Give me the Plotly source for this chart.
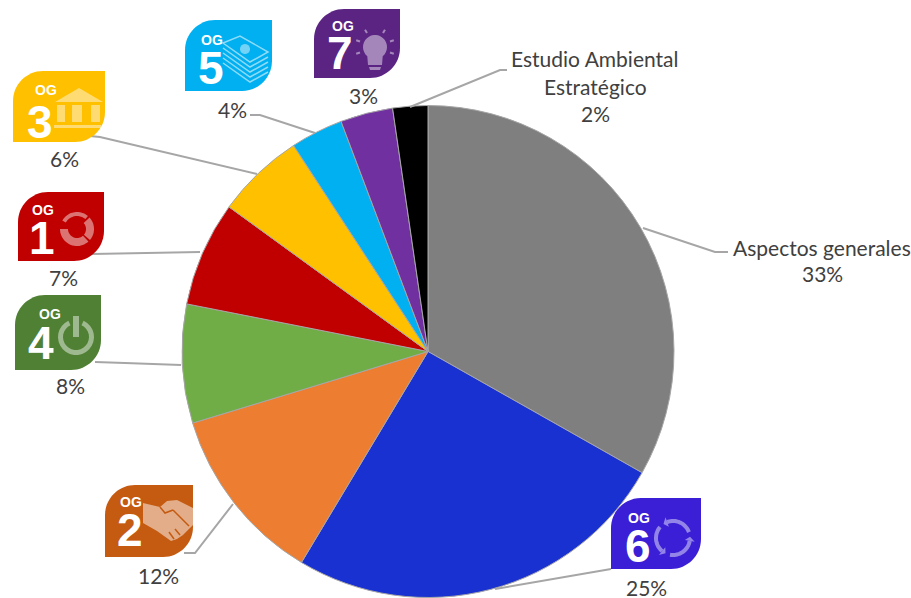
import re

import numpy as np
import plotly.graph_objects as go

WIDTH = 911
HEIGHT = 598

categories = ['Aspectos generales', 'OG 6', 'OG 2', 'OG 4', 'OG 1', 'OG 3', 'OG 5', 'OG 7',
              'Estudio Ambiental Estratégico']
values = [33.2, 25.4, 11.7, 7.8, 6.9, 5.8, 3.45, 3.45, 2.3]
slice_colors = ['#7F7F7F', '#1A31D1', '#ED7D31', '#70AD47', '#C00000', '#FFC000', '#00B0F0', '#7030A0', '#000000']

# texto, x, y (pixeles de la imagen)
labels = [
    ('Aspectos generales', 822, 247), ('33%', 822, 274),
    ('Estudio Ambiental', 595, 58), ('Estratégico', 595, 86), ('2%', 595, 114),
    ('25%', 646, 587), ('12%', 158, 575), ('8%', 70, 385), ('7%', 63, 277),
    ('6%', 64, 158), ('4%', 232, 109), ('3%', 363, 95),
]

leaders = [
    [(643, 228), (715, 252), (728, 252)],
    [(495, 589), (611, 569)],
    [(233, 504), (195, 553), (184, 553)],
    [(95, 362), (125, 363), (181, 365)],
    [(92, 254), (200, 252)],
    [(90, 136), (100, 137), (257, 174)],
    [(250, 115), (260, 115), (315, 133)],
    [(410, 107), (500, 70), (507, 70)],
]

# numero, color, x0, y0, x1, y1, pos. OG, pos. numero
badges = [
    ('3', '#FFC000', 13, 71, 105, 142, (33, 19), (27, 51)),
    ('5', '#00B0F0', 185, 20, 272, 91, (27, 20), (26, 48)),
    ('7', '#5B2483', 314, 9, 400, 78, (29, 17), (26, 44)),
    ('1', '#C00000', 18, 192, 104, 261, (25, 18), (24, 46)),
    ('4', '#4F8033', 15, 295, 101, 370, (35, 19), (26, 48)),
    ('2', '#C55A11', 105, 485, 193, 557, (26, 17), (25, 45)),
    ('6', '#3A1FD6', 611, 498, 701, 569, (28, 20), (27, 48)),
]

shapes = []
annotations = []


def to_paper(x, y):
    return x / WIDTH, 1 - y / HEIGHT


def path_at(path, x0, y0):
    # pasa un path en pixeles locales a coordenadas paper
    nums = iter(re.findall(r'[A-Z]|-?\d+\.?\d*', path))
    out = []
    for tok in nums:
        if tok.isalpha():
            out.append(tok)
        else:
            px, py = to_paper(float(tok) + x0, float(next(nums)) + y0)
            out.append(f'{px:.5f},{py:.5f}')
    return ' '.join(out)


def add_path(path, x0=0, y0=0, fill=None, line=None, width=0, opacity=1.0):
    shapes.append(dict(
        type='path', xref='paper', yref='paper', path=path_at(path, x0, y0),
        fillcolor=fill or 'rgba(0,0,0,0)',
        line=dict(color=line or 'rgba(0,0,0,0)', width=width),
        opacity=opacity, layer='above',
    ))


def poly(points, close=True):
    s = 'M ' + ' L '.join(f'{x:.1f} {y:.1f}' for x, y in points)
    return s + (' Z' if close else '')


def arc(cx, cy, r, a0, a1, n=24):
    t = np.radians(np.linspace(a0, a1, n))
    return list(zip(cx + r * np.sin(t), cy - r * np.cos(t)))


def ring_sector(cx, cy, r0, r1, a0, a1):
    return poly(arc(cx, cy, r1, a0, a1) + arc(cx, cy, r0, a1, a0))


def leaf(w, h, r=30):
    k = r * 0.45
    return (f'M {r} 0 L {w} 0 L {w} {h - r} C {w} {h - k} {w - k} {h} {w - r} {h} '
            f'L 0 {h} L 0 {r} C 0 {k} {k} 0 {r} 0 Z')


def icon_3(x, y):
    add_path('M 66 17 L 90 31 L 42 31 Z', x, y, 'white', opacity=0.45)
    for a, b in [(44, 52), (59, 69), (78, 87)]:
        add_path(poly([(a, 34), (b, 34), (b, 51), (a, 51)]), x, y, 'white', opacity=0.45)
    add_path(poly([(41, 54), (88, 54), (88, 57), (41, 57)]), x, y, 'white', opacity=0.45)


def icon_5(x, y):
    add_path('M 38 23 L 55 16 L 83 32 L 65 42 Z', x, y, None, 'white', 1.5, 0.55)
    for k in [5, 10, 15, 20]:
        add_path(poly([(38, 23 + k), (65, 42 + k), (83, 32 + k)], close=False), x, y, None, 'white', 1.5, 0.55)
    add_path(poly(arc(60, 29, 5, 0, 360)), x, y, 'white', opacity=0.45)


def icon_7(x, y):
    add_path(poly(arc(61, 38, 12, -140, 140) + [(68, 56), (54, 56)]), x, y, 'white', opacity=0.45)
    add_path(poly([(55, 58), (67, 58), (66, 61), (56, 61)]), x, y, 'white', opacity=0.45)
    for a in [-110, -70, -30, 30, 70, 110]:
        p = arc(61, 38, 16, a, a, 1) + arc(61, 38, 20, a, a, 1)
        add_path(poly(p, close=False), x, y, None, 'white', 2, 0.45)


def icon_1(x, y):
    for a0, a1, r0 in [(-60, 40, 13), (48, 130, 9), (138, 270, 9)]:
        add_path(ring_sector(59, 37, r0, 17, a0, a1), x, y, 'white', opacity=0.45)


def icon_4(x, y):
    add_path(ring_sector(61, 42, 13, 18, 25, 335), x, y, 'white', opacity=0.45)
    add_path(poly([(58, 21), (64, 21), (64, 42), (58, 42)]), x, y, 'white', opacity=0.45)


def icon_2(x, y):
    pts = [(38, 18), (55, 22), (62, 16), (72, 15), (88, 23), (88, 40), (78, 50), (72, 54), (66, 56), (52, 46), (38, 38)]
    add_path(poly(pts), x, y, 'white', opacity=0.5)
    # dedos y pulgar
    for seg in [[(55, 22), (60, 28), (68, 25)], [(68, 25), (84, 41)], [(64, 47), (69, 54)], [(70, 44), (75, 50)]]:
        add_path(poly(seg, close=False), x, y, None, '#C55A11', 1.5)


def icon_6(x, y):
    for a0, a1 in [(-20, 70), (100, 190), (220, 310)]:
        add_path(poly(arc(62, 40, 17, a0, a1), close=False), x, y, None, 'white', 4, 0.45)
        tip = arc(62, 40, 17, a0 - 14, a0 - 14, 1)
        base = arc(62, 40, 12, a0, a0, 1) + arc(62, 40, 22, a0, a0, 1)
        add_path(poly(tip + base), x, y, 'white', opacity=0.45)


icons = {'1': icon_1, '2': icon_2, '3': icon_3, '4': icon_4, '5': icon_5, '6': icon_6, '7': icon_7}

for pts in leaders:
    add_path(poly(pts, close=False), line='#A6A6A6', width=2)

for num, color, x0, y0, x1, y1, og_pos, num_pos in badges:
    add_path(leaf(x1 - x0, y1 - y0), x0, y0, color)
    icons[num](x0, y0)
    for text, pos, size, box in [('OG', og_pos, 14, 14), (num, num_pos, 46, 34)]:
        px, py = to_paper(x0 + pos[0], y0 + pos[1])
        annotations.append(dict(
            text=f'<b>{text}</b>', x=px, y=py, xref='paper', yref='paper', showarrow=False,
            xanchor='center', yanchor='middle', height=box, valign='middle',
            font=dict(family='Liberation Sans', size=size, color='white'),
        ))

for text, x, y in labels:
    px, py = to_paper(x, y)
    annotations.append(dict(
        text=text, x=px, y=py, xref='paper', yref='paper', showarrow=False,
        xanchor='center', yanchor='middle',
        font=dict(family='Lato', size=21, color='#404040'),
    ))

fig = go.Figure(
    data=go.Pie(
        labels=categories,
        values=values,
        sort=False,
        direction='clockwise',
        rotation=0,
        textinfo='none',
        hoverinfo='label+percent',
        marker=dict(colors=slice_colors, line=dict(color='#A6A6A6', width=1)),
        domain=dict(x=[182 / WIDTH, 674 / WIDTH], y=[0.5 / HEIGHT, 1 - 105.5 / HEIGHT]),
    ),
    layout=go.Layout(
        width=WIDTH,
        height=HEIGHT,
        margin=dict(l=0, r=0, t=0, b=0),
        showlegend=False,
        paper_bgcolor='white',
        shapes=shapes,
        annotations=annotations,
    )
)

# la pagina trae margen por defecto en el body
fig.write_html("out.html", config=dict(displayModeBar=False),
               post_script="document.body.style.margin='0';")
